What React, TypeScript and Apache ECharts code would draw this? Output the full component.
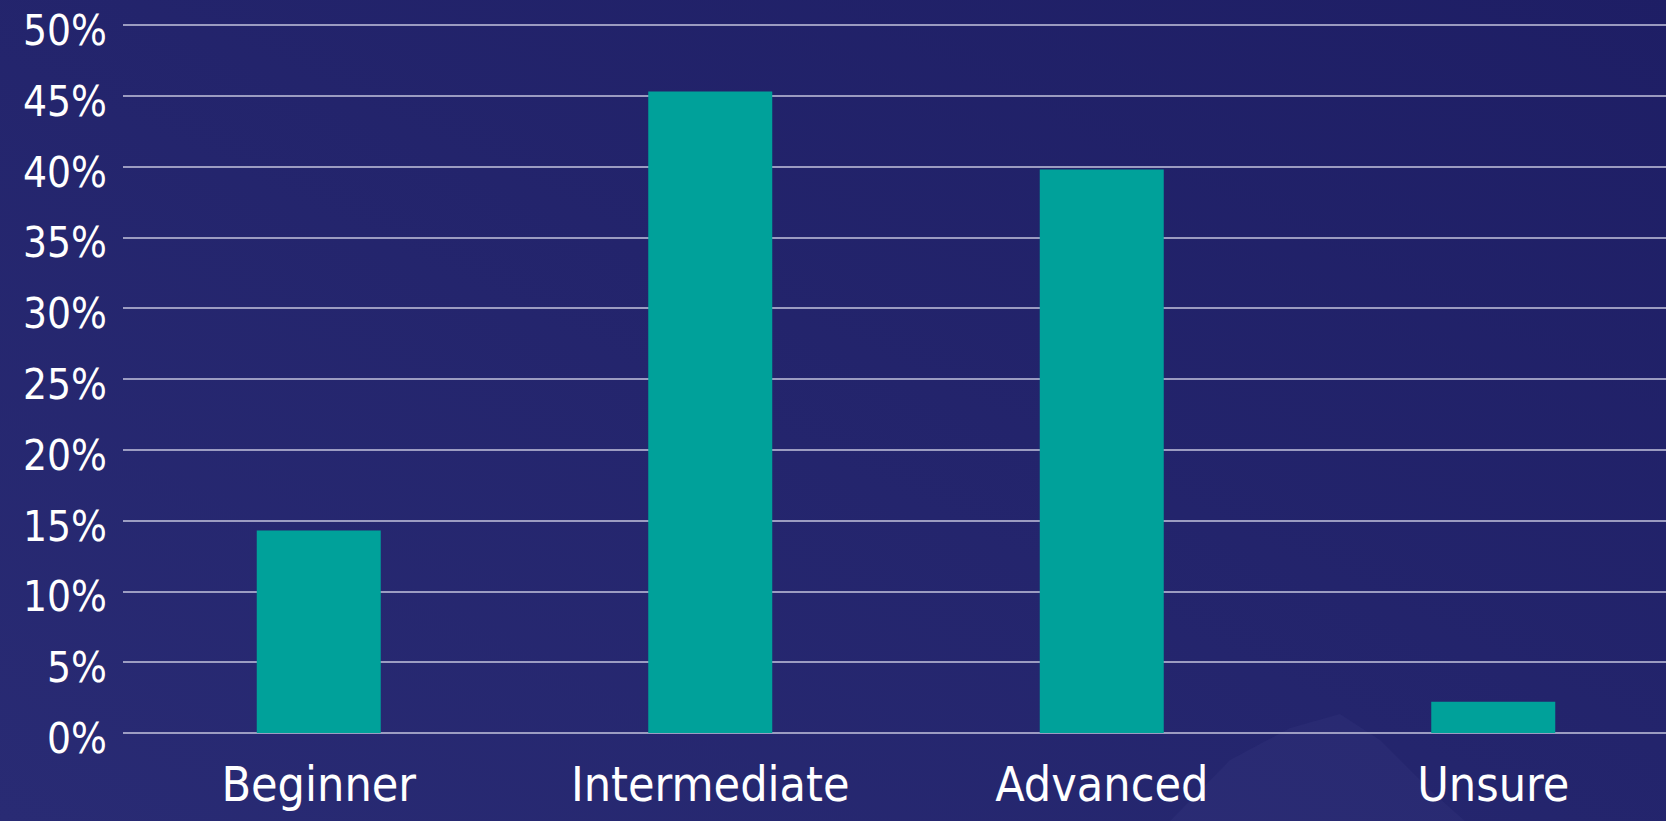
import React, { useEffect, useRef } from "react";
import * as echarts from "echarts";

const categories = ["Beginner", "Intermediate", "Advanced", "Unsure"];
const values = [14.3, 45.3, 39.8, 2.2];
const yTicks = [0, 5, 10, 15, 20, 25, 30, 35, 40, 45, 50];

const FONT = '"DejaVu Sans Condensed", "Liberation Sans Narrow", "Liberation Sans", sans-serif';

export default function App() {
  const ref = useRef<HTMLDivElement>(null);
  useEffect(() => {
    if (!ref.current) return;
    const chart = echarts.init(ref.current, undefined, { renderer: "svg" });
    chart.setOption({
      animation: false,
      backgroundColor: {
        type: "linear",
        x: 0,
        y: 1,
        x2: 1,
        y2: 0,
        colorStops: [
          { offset: 0, color: "#292b74" },
          { offset: 1, color: "#1e1e65" },
        ],
      },
      graphic: [
        {
          type: "polygon",
          z: -1,
          silent: true,
          shape: {
            points: [
              [1170, 821],
              [1230, 760],
              [1290, 728],
              [1340, 714],
              [1380, 740],
              [1430, 790],
              [1465, 821],
            ],
          },
          style: { fill: "rgba(140,140,210,0.05)" },
        },
      ],
      grid: { left: 123, right: 0, top: 25, bottom: 88, containLabel: false },
      xAxis: {
        type: "category",
        data: categories,
        axisLine: { show: false },
        axisTick: { show: false },
        axisLabel: {
          color: "#ffffff",
          fontFamily: FONT,
          fontSize: 48,
          margin: 27,
          interval: 0,
        },
      },
      yAxis: {
        type: "value",
        min: 0,
        max: yTicks[yTicks.length - 1],
        interval: 5,
        axisLine: { show: false },
        axisTick: { show: false },
        axisLabel: {
          color: "#ffffff",
          fontFamily: FONT,
          fontSize: 42,
          margin: 16,
          formatter: (v: number) => `{v|${v}%}`,
          rich: {
            v: {
              color: "#ffffff",
              fontFamily: FONT,
              fontSize: 42,
              padding: [11, 0, 0, 0],
            },
          },
        },
        splitLine: { lineStyle: { color: "#c4c4de", width: 1.5 } },
      },
      series: [
        {
          type: "bar",
          data: values,
          barWidth: 124,
          itemStyle: { color: "#00a19a" },
        },
      ],
    });
    return () => chart.dispose();
  }, []);
  return (
    <div
      ref={ref}
      style={{ position: "fixed", left: 0, top: 0, width: 1689, height: 821 }}
    />
  );
}
